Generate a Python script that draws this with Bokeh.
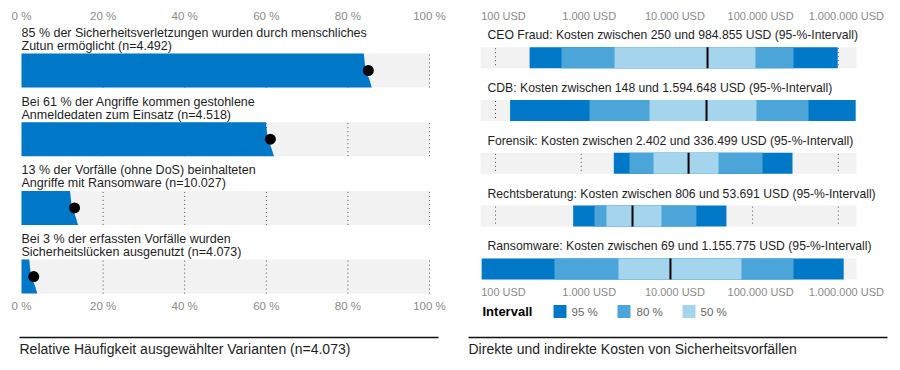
from bokeh.plotting import figure
from bokeh.layouts import row
from bokeh.models import Range1d
from bokeh.core.properties import value
from bokeh.embed import file_html
from bokeh.resources import INLINE

# ---------------- data ----------------
left_line1 = [
    "85 % der Sicherheitsverletzungen wurden durch menschliches",
    "Bei 61 % der Angriffe kommen gestohlene",
    "13 % der Vorfälle (ohne DoS) beinhalteten",
    "Bei 3 % der erfassten Vorfälle wurden",
]
left_line2 = [
    "Zutun ermöglicht (n=4.492)",
    "Anmeldedaten zum Einsatz (n=4.518)",
    "Angriffe mit Ransomware (n=10.027)",
    "Sicherheitslücken ausgenutzt (n=4.073)",
]
left_values = [85, 61, 13, 3]
left_ticks = [0, 20, 40, 60, 80, 100]
left_title = "Relative Häufigkeit ausgewählter Varianten (n=4.073)"

right_labels = [
    "CEO Fraud: Kosten zwischen 250 und 984.855 USD (95-%-Intervall)",
    "CDB: Kosten zwischen 148 und 1.594.648 USD (95-%-Intervall)",
    "Forensik: Kosten zwischen 2.402 und 336.499 USD (95-%-Intervall)",
    "Rechtsberatung: Kosten zwischen 806 und 53.691 USD (95-%-Intervall)",
    "Ransomware: Kosten zwischen 69 und 1.155.775 USD (95-%-Intervall)",
]
lo95 = [250, 148, 2402, 806, 69]
lo80 = [589, 1250, 3660, 1430, 488]
lo50 = [2450, 6270, 6980, 1970, 2720]
median = [29800, 29000, 17900, 3970, 11000]
hi50 = [108000, 111000, 40000, 8650, 74100]
hi80 = [300000, 449000, 130600, 22100, 300000]
hi95 = [984855, 1594648, 292000, 49500, 1155775]
right_ticks = [100, 1000, 10000, 100000, 1000000]
right_title = "Direkte und indirekte Kosten von Sicherheitsvorfällen"
legend_names = ["95 %", "80 %", "50 %"]

# ---------------- style ----------------
FONT = value("Liberation Sans")
DARK = "#0078c8"
MID = "#4ba5d9"
LIGHT = "#a5d4ed"
BG = "#f2f2f2"
TXT = "#1e1e1e"
TICK = "#8a8a8a"
DOT_GRID = "#4a4a4a"

# image-pixel helpers (y range is image pixels directly)
def LX(px):
    return (px - 21) / 4.08

def RX(px):
    return 10 ** (2 + (px - 495) / 85.7)

H = 362

# ---------------- left figure ----------------
pl = figure(width=450, height=H, x_range=Range1d(LX(0), LX(450)),
            y_range=Range1d(H, 0), output_backend="svg", toolbar_location=None,
            x_axis_location=None, y_axis_location=None, min_border=0,
            outline_line_color=None)
pl.xgrid.visible = False
pl.ygrid.visible = False

LT0, LSTEP, LH = 53, 68.7, 34
tops = [LT0 + LSTEP * i for i in range(len(left_values))]
bots = [t + LH for t in tops]

pl.quad(left=[0] * 4, right=[100] * 4, top=tops, bottom=bots, fill_color=BG, line_color=None)
gx0, gy0, gx1, gy1 = [], [], [], []
for t, b in zip(tops, bots):
    for tk in left_ticks[1:]:
        gx0.append(tk); gx1.append(tk); gy0.append(t + 1); gy1.append(b)
pl.segment(x0=gx0, y0=gy0, x1=gx1, y1=gy1, line_color=DOT_GRID, line_dash="1 3", line_width=1)

# bars with soft slanted end
u = 1 / 4.08
xs, ys = [], []
for v, t in zip(left_values, tops):
    offs = [(-4.5, 0), (-3.8, 0.2), (-3.0, 0.4), (-1.0, 0.6), (1.5, 0.8), (3.5, 1.0)]
    px = [0] + [v + o * u for o, f in offs] + [0]
    py = [t] + [t + f * LH for o, f in offs] + [t + LH]
    xs.append(px); ys.append(py)
pl.patches(xs=xs, ys=ys, fill_color=DARK, line_color=None)
pl.scatter(x=left_values, y=[t + LH / 2 for t in tops], size=11, fill_color="black", line_color=None)

pl.text(x=[0] * 4, y=[t - 20.5 for t in tops], text=left_line1, text_font=FONT,
        text_font_size="12.5px", text_color=TXT, text_baseline="middle")
pl.text(x=[0] * 4, y=[t - 7.5 for t in tops], text=left_line2, text_font=FONT,
        text_font_size="12.5px", text_color=TXT, text_baseline="middle")

tl = [f"{tk} %" for tk in left_ticks]
pl.text(x=left_ticks, y=[15] * 6, text=tl, text_font=FONT, text_font_size="11.5px",
        text_color=TICK, text_align="center", text_baseline="middle")
pl.text(x=left_ticks, y=[305] * 6, text=tl, text_font=FONT, text_font_size="11.5px",
        text_color=TICK, text_align="center", text_baseline="middle")

pl.segment(x0=[LX(19)], y0=[337], x1=[LX(438)], y1=[337], line_color="#111111", line_width=1.3)
pl.text(x=[LX(19)], y=[348], text=[left_title], text_font=FONT, text_font_size="14px",
        text_color=TXT, text_baseline="middle")

# ---------------- right figure ----------------
pr = figure(width=450, height=H, x_axis_type="log", x_range=Range1d(RX(450), RX(900)),
            y_range=Range1d(H, 0), output_backend="svg", toolbar_location=None,
            x_axis_location=None, y_axis_location=None, min_border=0,
            outline_line_color=None)
pr.xgrid.visible = False
pr.ygrid.visible = False

RT0, RSTEP, RH = 46.7, 52.8, 21
n = len(right_labels)
rtops = [RT0 + RSTEP * i for i in range(n)]
rbots = [t + RH for t in rtops]

pr.quad(left=[RX(480)] * n, right=[RX(856)] * n, top=rtops, bottom=rbots, fill_color=BG, line_color=None)
gx0, gy0, gx1, gy1 = [], [], [], []
for t, b in zip(rtops, rbots):
    for tk in right_ticks:
        gx0.append(tk); gx1.append(tk); gy0.append(t + 1); gy1.append(b)
pr.segment(x0=gx0, y0=gy0, x1=gx1, y1=gy1, line_color=DOT_GRID, line_dash="1 3", line_width=1)

pr.quad(left=lo95, right=hi95, top=rtops, bottom=rbots, fill_color=DARK, line_color=None)
pr.quad(left=lo80, right=hi80, top=rtops, bottom=rbots, fill_color=MID, line_color=None)
pr.quad(left=lo50, right=hi50, top=rtops, bottom=rbots, fill_color=LIGHT, line_color=None)
pr.segment(x0=median, y0=rtops, x1=median, y1=rbots, line_color="black", line_width=2)

pr.text(x=[RX(487)] * n, y=[t - 12 for t in rtops], text=right_labels, text_font=FONT,
        text_font_size="12.2px", text_color=TXT, text_baseline="middle")

tr = [f"{tk:,}".replace(",", ".") + " USD" for tk in right_ticks]
pr.text(x=right_ticks, y=[15] * 5, text=tr, text_font=FONT, text_font_size="11px",
        text_color=TICK, text_align="center", text_baseline="middle", x_offset=8)
pr.text(x=right_ticks, y=[291] * 5, text=tr, text_font=FONT, text_font_size="11px",
        text_color=TICK, text_align="center", text_baseline="middle", x_offset=8)

# legend
pr.text(x=[RX(482)], y=[311], text=["Intervall"], text_font=FONT, text_font_size="13px",
        text_font_style="bold", text_color="black", text_baseline="middle")
sq_left = [RX(553), RX(617), RX(682)]
sq_right = [RX(566), RX(630), RX(695)]
pr.quad(left=sq_left, right=sq_right, top=[304.5] * 3, bottom=[317.5] * 3,
        fill_color=[DARK, MID, LIGHT], line_color=None)
pr.text(x=[RX(571), RX(636), RX(700)], y=[311] * 3, text=legend_names, text_font=FONT,
        text_font_size="11.5px", text_color="#666666", text_baseline="middle")

pr.segment(x0=[RX(468)], y0=[337], x1=[RX(887)], y1=[337], line_color="#111111", line_width=1.3)
pr.text(x=[RX(468)], y=[348], text=[right_title], text_font=FONT, text_font_size="14px",
        text_color=TXT, text_baseline="middle")

layout = row(pl, pr)
open("out.html", "w").write(file_html(layout, INLINE))
